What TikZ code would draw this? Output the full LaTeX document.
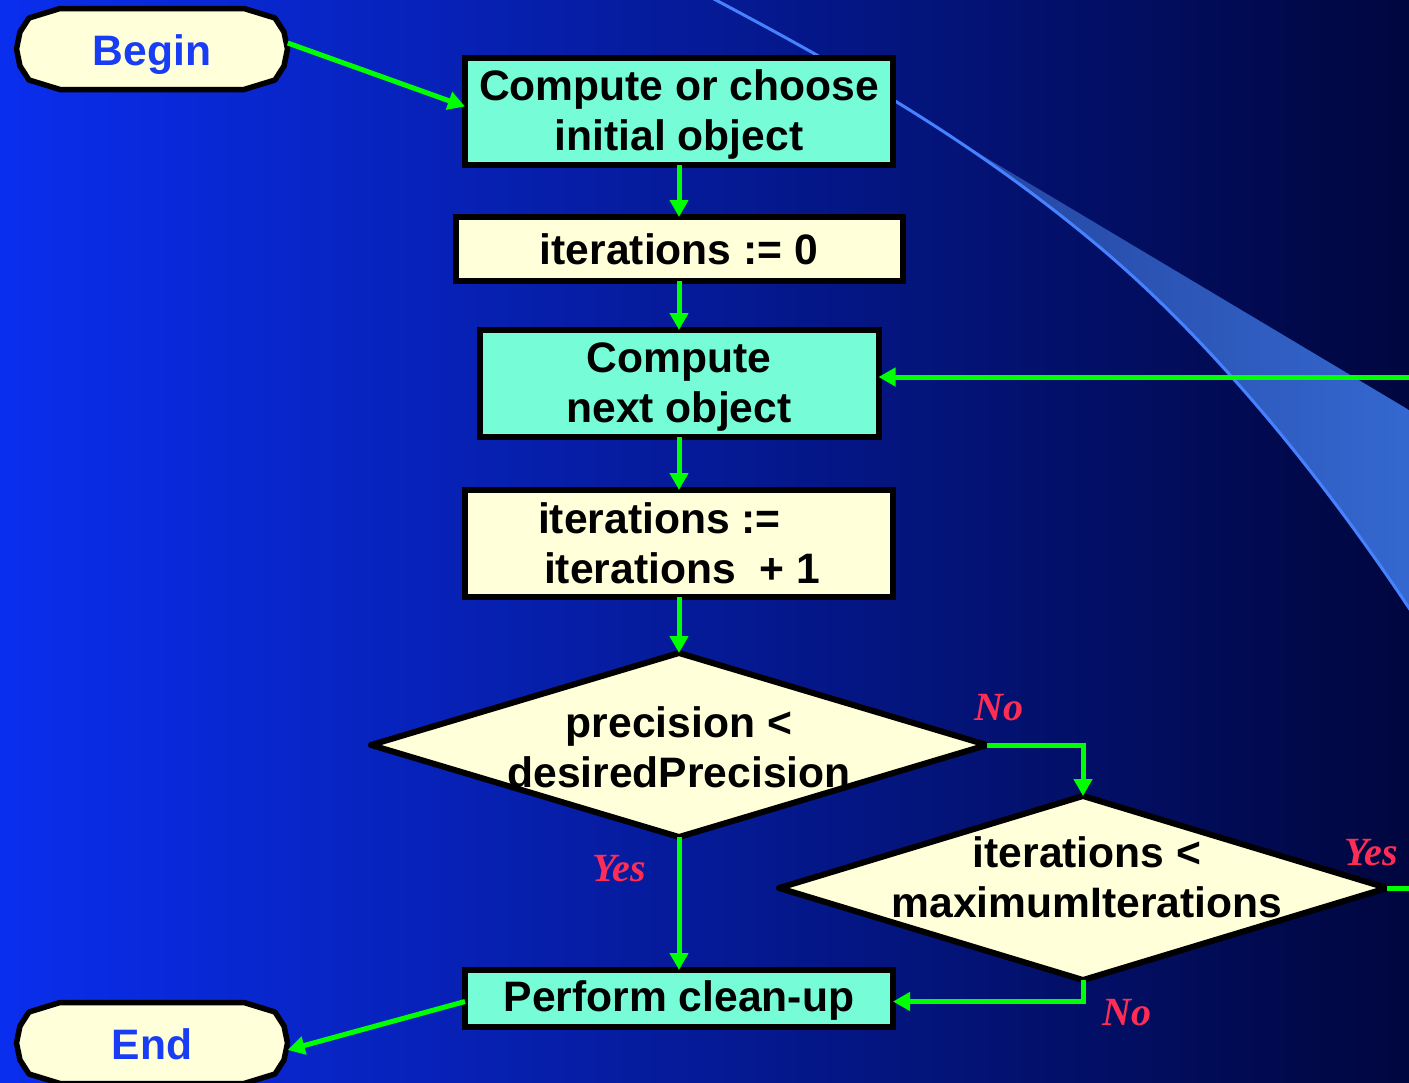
\documentclass[tikz,border=0pt]{standalone}
\usepackage{fontspec}
\setmainfont{Liberation Sans}
\newfontfamily\labelfont{Liberation Serif}
\usetikzlibrary{arrows.meta,shapes.geometric}

\definecolor{bgleft}{RGB}{10,46,238}
\definecolor{bgright}{RGB}{0,6,62}
\definecolor{aqua}{RGB}{118,252,214}
\definecolor{cream}{RGB}{255,255,217}
\definecolor{flow}{RGB}{0,255,0}
\definecolor{answerred}{RGB}{255,45,85}
\definecolor{termblue}{RGB}{25,60,245}
\definecolor{swoosh}{RGB}{70,130,255}
\definecolor{bandL}{RGB}{36,68,158}
\definecolor{bandR}{RGB}{52,104,208}

% extra room above the first line of a two-line box
\newcommand\firstlinelift{\rule{0pt}{37.6bp}}

\begin{document}
\begin{tikzpicture}[x=1bp,y=-1bp,
  txt/.style={font=\fontsize{42.6bp}{50bp}\selectfont\bfseries,text=black,inner sep=0pt},
  procbox/.style={txt,rectangle,draw=black,line width=6bp,align=center,outer sep=0pt,
    minimum width=428bp,minimum height=107bp},
  decision/.style={diamond,draw=black,fill=cream,line width=6bp,line join=round,
    inner sep=0pt,outer sep=0pt,minimum width=616bp,minimum height=184bp},
  terminal/.style={draw=black,fill=cream,line width=5.5bp,line join=round},
  termlabel/.style={txt,text=termblue,minimum width=271bp,minimum height=81bp,
    text height=33bp,text depth=0bp},
  answer/.style={font=\labelfont\fontsize{40bp}{42bp}\selectfont\bfseries\itshape,
    text=answerred,inner sep=0pt},
  flowline/.style={draw=flow,line width=5bp,-{Triangle[length=17bp,width=18bp]}},
  terminal outline/.style={insert path={++(-92,-40.5) -- ++(184,0) -- ++(31,9.5)
    -- ++(9,14) -- ++(3.5,17) -- ++(-3.5,17) -- ++(-9,14) -- ++(-31,9.5)
    -- ++(-184,0) -- ++(-31,-9.5) -- ++(-9,-14) -- ++(-3.5,-17) -- ++(3.5,-17)
    -- ++(9,-14) -- cycle}},
  swoosh curve/.style={insert path={(712,-2) .. controls (842,67) and (973,140)
    .. (1103,250) .. controls (1203,335) and (1309,458) .. (1409,608)}}
]
\useasboundingbox (0,0) rectangle (1409,1082);
\clip (0,0) rectangle (1409,1082);

% backdrop
\shade[left color=bgleft,right color=bgright] (0,0) rectangle (1409,1082);
\begin{scope}
  \clip [swoosh curve] -- (1420,640) -- (1420,-10) -- (712,-10) -- cycle;
  \shade[left color=bandL,right color=bandR]
    (948,135) -- (1409,410) -- (1409,1090) -- (948,1090) -- cycle;
\end{scope}
\draw[swoosh,line width=3bp] [swoosh curve] -- (1430,640);

% terminals
\draw[terminal] (152,49) [terminal outline];
\node[termlabel] (begin) at (152,49) {Begin};
\draw[terminal] (152,1043) [terminal outline];
\node[termlabel] (finish) at (152,1043) {End};

% process boxes
\node[procbox,fill=aqua] (init) at (679,111.5) {\firstlinelift Compute or choose\\initial object};
\node[procbox,fill=cream,minimum width=447bp,minimum height=64bp] (zero) at (679,249) {iterations := 0};
\node[procbox,fill=aqua,minimum width=399bp] (next) at (679,383.5) {\firstlinelift Compute\\next object};
\node[procbox,fill=cream,align=left] (incr) at (679,543.5) {iterations :=\\\hspace*{6bp}iterations~~+ 1};
\node[procbox,fill=aqua,minimum height=57bp,text depth=4bp] (clean) at (679,998.5) {Perform clean-up};

% decisions
\node[decision] (prec) at (679,745) {};
\node[txt,align=center] (prectext) at (679,747) {precision <\\desiredPrecision};
\node[decision,minimum width=608bp] (maxit) at (1083,888) {};
\node[txt,align=center] (maxittext) at (1087,877.5) {iterations <\\maximumIterations};

% connectors
\draw[flowline] ([yshift=6bp]begin.east) -- ([yshift=5bp]init.west);
\draw[flowline] (init) -- (zero);
\draw[flowline] (zero) -- (next);
\draw[flowline] (next) -- (incr);
\draw[flowline] (incr) -- (prec);
\draw[flowline] (prec.east) -| (maxit.north);
\draw[flowline] (prec.south) -- (clean.north);
\draw[flowline] (maxit.south) |- ([yshift=-3bp]clean.east);
\draw[flowline] (maxit.east) -- ++(80,0) |- ([yshift=6.5bp]next.east);
\draw[flowline] ([yshift=-3bp]clean.west) -- ([yshift=-7bp]finish.east);

% branch labels
\node[answer] (precno) at (999,708) {No};
\node[answer] (precyes) at (619,869) {Yes};
\node[answer] (maxitno) at (1127,1013) {No};
\node[answer] (maxityes) at (1371,853) {Yes};
\end{tikzpicture}
\end{document}
